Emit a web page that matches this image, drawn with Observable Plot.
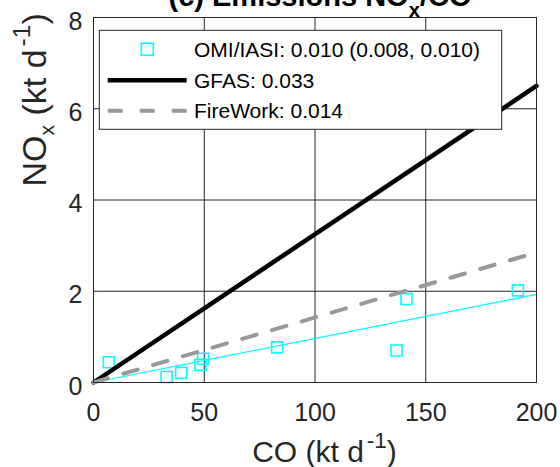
<!DOCTYPE html>
<html><head><meta charset="utf-8">
<script src="https://cdn.jsdelivr.net/npm/d3@7"></script>
<script src="https://cdn.jsdelivr.net/npm/@observablehq/plot@0.6"></script>
<style>
body{margin:0;background:#fff;}
#chart svg{display:block;}
</style>
</head><body><div id="chart"></div>
<script>
// ---- data ----
const coValues  = [6.9, 33, 39.6, 48.3, 49.5, 82.9, 136.8, 141.3, 191.6];
const noxValues = [0.445, 0.12, 0.21, 0.39, 0.52, 0.77, 0.70, 1.83, 2.02];
const fitX      = [0, 200];
const omiFitY   = [0, 1.93];
const gfasY     = [0, 6.5];
const fireworkY = [0, 2.85];
const xTicks = [0, 50, 100, 150, 200];
const yTicks = [0, 2, 4, 6, 8];
const legendLabels = ["OMI/IASI: 0.010 (0.008, 0.010)", "GFAS: 0.033", "FireWork: 0.014"];
const titleText = "(c) Emissions NO_{x}/CO";
const xLabel = "CO (kt d^{-1})";
const yLabel = "NO_{x} (kt d^{-1})";

const CYAN = "#00ffff", GRAY = "#999999", INK = "#262626";

const points = coValues.map((x, i) => ({x, y: noxValues[i]}));
const omiFit = fitX.map((x, i) => ({x, y: omiFitY[i]}));
const gfas = fitX.map((x, i) => ({x, y: gfasY[i]}));
const firework = fitX.map((x, i) => ({x, y: fireworkY[i]}));

const plot = Plot.plot({
  width: 560, height: 467,
  marginLeft: 93, marginRight: 24, marginTop: 17, marginBottom: 85,
  style: {fontFamily: "'Liberation Sans', Arial, Helvetica, sans-serif", background: "#fff", color: INK},
  x: {domain: [0, 200]},
  y: {domain: [0, 8]},
  marks: [
    Plot.gridX(xTicks, {stroke: INK, strokeOpacity: 1, strokeWidth: 1}),
    Plot.gridY(yTicks, {stroke: INK, strokeOpacity: 1, strokeWidth: 1}),
    Plot.line(omiFit, {x: "x", y: "y", stroke: CYAN, strokeWidth: 1.2}),
    Plot.dot(points, {x: "x", y: "y", symbol: "square", r: 6.2, fill: "none", stroke: CYAN, strokeWidth: 1.6}),
    Plot.line(gfas, {x: "x", y: "y", stroke: "#000", strokeWidth: 4.5}),
    Plot.line(firework, {x: "x", y: "y", stroke: GRAY, strokeWidth: 4, strokeDasharray: "15,16"}),
    Plot.frame({stroke: INK, strokeWidth: 1}),
    Plot.axisX(xTicks, {tickSize: 0, tickPadding: 21, fontSize: 25, label: null, color: INK}),
    Plot.axisY(yTicks, {tickSize: 0, tickPadding: 11, fontSize: 25, dy: 4, label: null, color: INK}),
    Plot.text([titleText], {text: d => d, frameAnchor: "top", lineAnchor: "bottom", dy: -12, dx: 5,
      fontSize: 29, fontWeight: "bold", fill: "#000"}),
    Plot.text([xLabel], {text: d => d, frameAnchor: "bottom", lineAnchor: "bottom", dy: 79, dx: 9.5,
      fontSize: 30, fill: INK}),
    Plot.text([yLabel], {text: d => d, frameAnchor: "left", lineAnchor: "bottom", rotate: -90,
      dx: -48, dy: -13.5, fontSize: 34, fill: INK})
  ]
});

// ---- rich text (sub/superscripts) ----
function richText(el, fs, o) {
  const s = el.textContent;
  const re = /([_^])\{([^}]*)\}/g;
  const parts = []; let last = 0, m;
  while ((m = re.exec(s))) {
    if (m.index > last) parts.push({t: s.slice(last, m.index), type: "n"});
    parts.push({t: m[2], type: m[1]});
    last = re.lastIndex;
  }
  if (last < s.length) parts.push({t: s.slice(last), type: "n"});
  el.textContent = "";
  let cur = 0;
  for (const p of parts) {
    const ts = document.createElementNS("http://www.w3.org/2000/svg", "tspan");
    let target = 0;
    if (p.type === "_") { target = o.sub; ts.setAttribute("font-size", fs * o.subScale); }
    else if (p.type === "^") { target = -o.sup; ts.setAttribute("font-size", fs * o.supScale); ts.setAttribute("dx", o.supDx || 0); }
    ts.setAttribute("dy", target - cur);
    cur = target;
    ts.textContent = p.t;
    el.appendChild(ts);
  }
}
d3.select(plot).selectAll("text").each(function() {
  const s = this.textContent;
  if (s === titleText) richText(this, 29, {sub: 11.7, subScale: 0.7});
  else if (s === xLabel) richText(this, 30, {sup: 14, supScale: 0.75, supDx: 3});
  else if (s === yLabel) richText(this, 34, {sub: 8, subScale: 0.62, sup: 16, supScale: 0.72, supDx: 3});
});

// ---- legend (inside the axes, top-left) ----
const xs = plot.scale("x"), ys = plot.scale("y");
const fx = xs.range[0], fy = ys.range[1];
const svg = d3.select(plot);
const lg = svg.append("g").attr("transform", `translate(${fx},${fy})`).attr("text-anchor", "start");
lg.append("rect").attr("x", 6.3).attr("y", 13.3).attr("width", 402.4).attr("height", 99)
  .attr("fill", "#fff").attr("stroke", INK).attr("stroke-width", 1);
const rowsY = [32.3, 63.3, 93.7];
// row 1: square marker
lg.append("rect").attr("x", 54.3 - 6).attr("y", rowsY[0] - 6).attr("width", 12).attr("height", 12)
  .attr("fill", "none").attr("stroke", CYAN).attr("stroke-width", 1.6);
// row 2: solid black
lg.append("line").attr("x1", 14.7).attr("x2", 93.7).attr("y1", rowsY[1]).attr("y2", rowsY[1])
  .attr("stroke", "#000").attr("stroke-width", 4.5);
// row 3: dashed gray
lg.append("line").attr("x1", 14.7).attr("x2", 93.7).attr("y1", rowsY[2]).attr("y2", rowsY[2])
  .attr("stroke", GRAY).attr("stroke-width", 4).attr("stroke-dasharray", "15,17");
legendLabels.forEach((t, i) => {
  lg.append("text").attr("x", 101).attr("y", rowsY[i] + 7.5).attr("font-size", 21)
    .attr("text-anchor", "start")
    .attr("fill", "#000").attr("font-family", "'Liberation Sans', Arial, sans-serif").text(t);
});

document.getElementById("chart").appendChild(plot);
</script>
</body></html>
